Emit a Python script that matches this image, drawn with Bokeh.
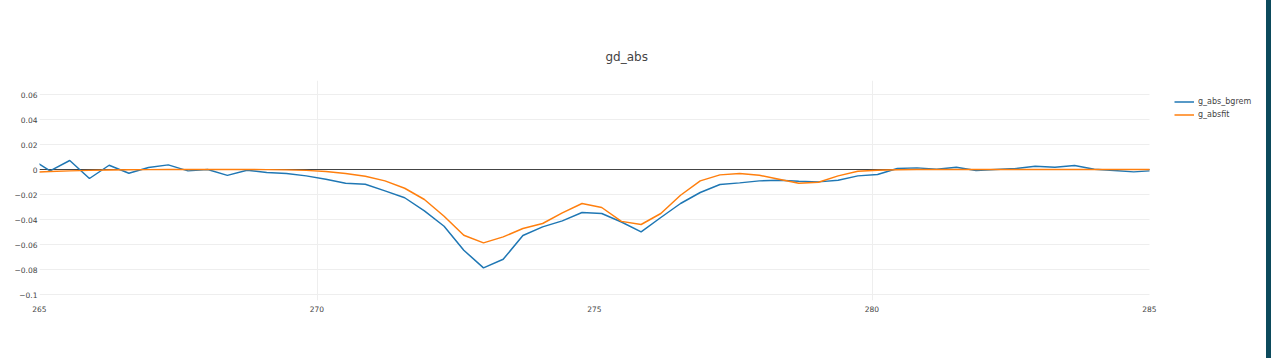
from bokeh.plotting import figure
from bokeh.models import (Range1d, FixedTicker, CustomJSTickFormatter,
                          Legend, LegendItem, Div)
from bokeh.layouts import row
from bokeh.embed import file_html
from bokeh.resources import INLINE

TITLE = "gd_abs"

X = [264.835, 265.190, 265.545, 265.900, 266.255, 266.610, 266.965, 267.320,
     267.675, 268.030, 268.385, 268.740, 269.095, 269.450, 269.805, 270.160,
     270.515, 270.870, 271.225, 271.580, 271.935, 272.290, 272.645, 273.000,
     273.355, 273.710, 274.065, 274.420, 274.775, 275.130, 275.485, 275.840,
     276.195, 276.550, 276.905, 277.260, 277.615, 277.970, 278.325, 278.680,
     279.035, 279.390, 279.745, 280.100, 280.455, 280.810, 281.165, 281.520,
     281.875, 282.230, 282.585, 282.940, 283.295, 283.650, 284.005, 284.360,
     284.715, 285.000]

G_ABS_BGREM = [0.0088, -0.0011, 0.0072, -0.0072, 0.0034, -0.0030, 0.0016, 0.0037,
               -0.0011, 0.0000, -0.0047, -0.0006, -0.0024, -0.0032, -0.0051, -0.0078,
               -0.0110, -0.0118, -0.0171, -0.0226, -0.0331, -0.0454, -0.0646, -0.0787,
               -0.0718, -0.0528, -0.0459, -0.0411, -0.0344, -0.0352, -0.0420, -0.0499,
               -0.0384, -0.0272, -0.0184, -0.0120, -0.0107, -0.0091, -0.0086, -0.0094,
               -0.0099, -0.0086, -0.0051, -0.0040, 0.0008, 0.0013, 0.0002, 0.0018,
               -0.0008, 0.0000, 0.0008, 0.0026, 0.0018, 0.0032, 0.0002, -0.0008,
               -0.0019, -0.0011]

G_ABSFIT = [-0.0022, -0.0016, -0.0011, -0.0007, -0.0004, -0.0002, -0.0001, 0.0000,
            0.0000, 0.0000, 0.0000, 0.0000, -0.0001, -0.0003, -0.0007, -0.0016,
            -0.0032, -0.0054, -0.0091, -0.0150, -0.0240, -0.0374, -0.0526, -0.0587,
            -0.0539, -0.0472, -0.0432, -0.0347, -0.0272, -0.0304, -0.0415, -0.0440,
            -0.0352, -0.0206, -0.0091, -0.0043, -0.0032, -0.0046, -0.0078, -0.0110,
            -0.0102, -0.0051, -0.0014, -0.0006, -0.0002, 0.0000, 0.0000, 0.0000,
            0.0000, 0.0000, 0.0000, 0.0000, 0.0000, 0.0000, 0.0000, 0.0000,
            0.0000, 0.0000]

SERIES_NAMES = ["g_abs_bgrem", "g_absfit"]
X_MIN, X_MAX = 265, 285
X_TICKS = [265, 270, 275, 280, 285]
X_GRID = [270, 280]
Y_TICKS = [-0.1, -0.08, -0.06, -0.04, -0.02, 0, 0.02, 0.04, 0.06]
Y_GRID = [-0.1, -0.08, -0.06, -0.04, -0.02, 0.02, 0.04, 0.06]
Y_LABELS = ["\u22120.1", "\u22120.08", "\u22120.06", "\u22120.04", "\u22120.02",
            "0", "0.02", "0.04", "0.06"]

FONT = "DejaVu Sans"
TXT = "#444444"
W, H = 1266, 358
LEFT = 39
PLOT_W = 1110  # pixel width of the 265..285 axis span

# frame extends to the right edge so the legend can sit inside it
x_end = X_MIN + (W - LEFT) * (X_MAX - X_MIN) / PLOT_W

p = figure(width=W, height=H, output_backend="svg", toolbar_location=None,
           x_range=Range1d(X_MIN, x_end), y_range=Range1d(-0.1048, 0.0712),
           min_border_left=LEFT, min_border_right=0, min_border_top=80,
           min_border_bottom=58, title=TITLE)
p.outline_line_color = None
p.background_fill_color = "white"
p.border_fill_color = "white"

p.title.align = "left"
p.title.offset = 566
p.title.text_font = FONT
p.title.text_font_size = "12px"
p.title.text_font_style = "normal"
p.title.text_color = TXT
p.title.standoff = 34

p.xgrid.ticker = FixedTicker(ticks=X_GRID)
p.xgrid.grid_line_color = "#eeeeee"
p.ygrid.grid_line_color = None

# horizontal grid lines limited to the axis span
p.segment(x0=[X_MIN] * len(Y_GRID), x1=[X_MAX] * len(Y_GRID), y0=Y_GRID, y1=Y_GRID,
          line_color="#eeeeee", line_width=1)
# zero line
p.segment(x0=[X_MIN], x1=[X_MAX], y0=[0], y1=[0], line_color="#444444", line_width=1)

for ax in (p.xaxis, p.yaxis):
    ax.axis_line_color = None
    ax.major_tick_line_color = None
    ax.minor_tick_line_color = None
    ax.major_tick_out = 0
    ax.major_tick_in = 0
    ax.minor_tick_out = 0
    ax.major_label_text_font = FONT
    ax.major_label_text_font_size = "7.5px"
    ax.major_label_text_color = TXT

p.xaxis.ticker = FixedTicker(ticks=X_TICKS)
p.xaxis.major_label_standoff = 5
p.yaxis.ticker = FixedTicker(ticks=Y_TICKS)
p.yaxis.major_label_standoff = 2
p.yaxis.formatter = CustomJSTickFormatter(args=dict(yt=Y_TICKS, yl=Y_LABELS), code="""
let best = 0; let d = Infinity;
for (let i = 0; i < yt.length; i++) {
  const e = Math.abs(yt[i] - tick);
  if (e < d) { d = e; best = i; }
}
return yl[best];
""")

r1 = p.line(X, G_ABS_BGREM, line_color="#1f77b4", line_width=1.5)
r2 = p.line(X, G_ABSFIT, line_color="#ff7f0e", line_width=1.5)

legend = Legend(items=[LegendItem(label=SERIES_NAMES[0], renderers=[r1]),
                       LegendItem(label=SERIES_NAMES[1], renderers=[r2])],
                location=(1135, 179), orientation="vertical",
                border_line_alpha=0, background_fill_alpha=0,
                padding=0, margin=0, spacing=0,
                glyph_width=20, glyph_height=13, label_height=13,
                label_standoff=4, label_text_font_size="8px",
                label_text_color=TXT, label_text_font=FONT)
p.add_layout(legend)

bar = Div(text="", width=5, height=H, margin=0,
          styles={"background-color": "#0c4a5c"})

open("out.html", "w").write(file_html(row(p, bar), INLINE))
